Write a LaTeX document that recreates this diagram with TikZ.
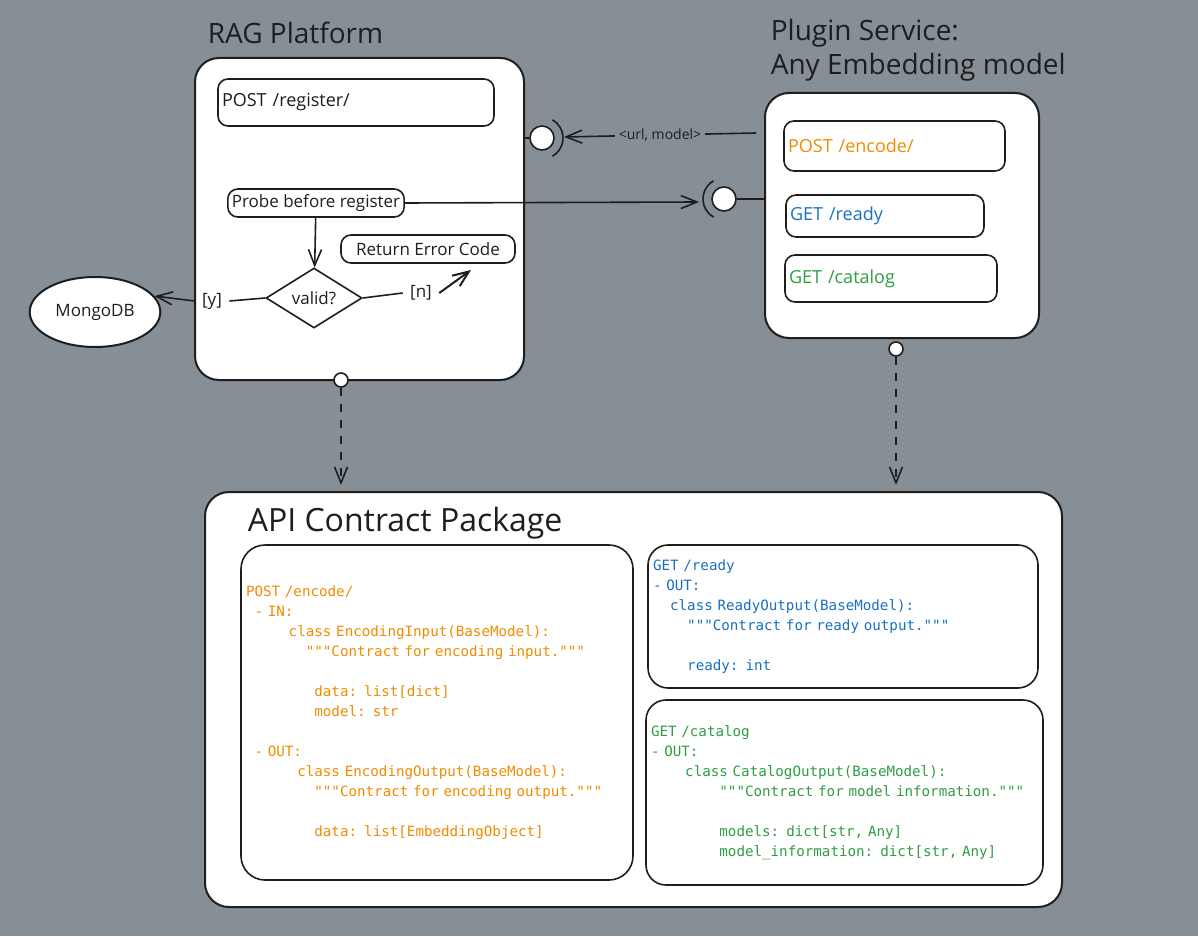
\documentclass[tikz,border=0pt]{standalone}
\usepackage{fontspec}
\setmainfont{Open Sans}
\newfontfamily\codefont{DejaVu Sans Mono}[Ligatures=TeXOff]
\usepackage{xcolor}
\usepackage{tikz}
\usetikzlibrary{shapes.geometric, arrows.meta, calc}
\definecolor{bggray}{HTML}{868E96}
\definecolor{ink}{HTML}{1E1E1E}
\definecolor{encorange}{HTML}{F08C00}
\definecolor{readyblue}{HTML}{1971C2}
\definecolor{catgreen}{HTML}{2F9E44}
\newcommand\cind[1]{\hspace*{#1\fontcharwd\font`x}}
\newcommand\codesize{\codefont\fontsize{7.1}{10}\selectfont
  \spaceskip=\fontcharwd\font`x\relax\xspaceskip=\spaceskip}
\tikzset{every node/.append style={font=\fontsize{8.5}{10}\selectfont, text=ink}}
\tikzset{
  bigbox/.style={draw=ink, fill=white, line width=1pt, rounded corners=12pt, inner sep=0pt},
  smallbox/.style={draw=ink, fill=white, line width=0.8pt, rounded corners=5pt, inner sep=2pt},
  codebox/.style={draw=ink, fill=white, line width=0.8pt, rounded corners=10pt, align=left,
    inner xsep=2.5pt, font=\codesize},
  port/.style={circle, draw=ink, fill=white, line width=0.8pt, inner sep=0pt},
  headtext/.style={anchor=west, inner sep=0pt, font=\fontsize{14}{17}\selectfont}
}

\begin{document}
\begin{tikzpicture}[x=0.5pt, y=-0.5pt, >={Straight Barb[length=8pt,width=6.5pt]}, line width=0.8pt, color=ink]
    \fill[bggray] (0,0) rectangle (1198,936);
    % RAG platform
    \node[bigbox, minimum width=164.5pt, minimum height=161pt] (rag) at (359.5,219) {};
    \node[headtext] (ragtitle) at (207,33) {RAG Platform};
    \node[smallbox, text width=134pt, minimum height=23.5pt, align=left, font=\fontsize{9}{10}\selectfont] (register) at (356,102.5) {POST /register/};
    \node[smallbox, minimum width=87pt, minimum height=14pt] (probe) at (316,203) {Probe before register};
    \node[smallbox, minimum width=87pt, minimum height=14pt] (error) at (428,249) {Return Error Code};
    \node[diamond, draw, fill=white, minimum width=48pt, minimum height=30pt, inner sep=0pt] (valid) at (314,298) {valid?};
    \node[ellipse, draw, fill=white, line width=1pt, minimum width=62pt, minimum height=35pt] (mongo) at (95,312) {MongoDB};
    \draw[->] (probe) -- (valid);
    \node (ylbl) at (212,301) {[y]};
    \draw (valid.west) -- (ylbl.east);
    \draw[->] (ylbl.west) -- (mongo.15);
    \node (nlbl) at (421,293) {[n]};
    \coordinate (errtip) at (471,270);
    \draw (valid.east) -- (nlbl.west);
    \draw[->, line width=1pt] (nlbl.east) -- (errtip);
    % provided port and <url, model>
    \node[port, minimum size=12pt] (rport) at (542,138) {};
    \draw (rport.west) -- (rport.west -| rag.east);
    \draw ([shift={(-60:10.5pt)}]rport.center) arc[start angle=-60, end angle=60, radius=10.5pt];
    % plugin service
    \node[bigbox, minimum width=137pt, minimum height=122.5pt] (plugin) at (902,215.5) {};
    \node[headtext, align=left] (plugtitle) at (770,50) {Plugin Service:\\Any Embedding model};
    \node[smallbox, text width=106.5pt, minimum height=25pt, align=left, text=encorange, font=\fontsize{9}{10}\selectfont] (encode) at (894.5,146) {POST /encode/};
    \node[smallbox, text width=95pt, minimum height=21pt, align=left, text=readyblue, font=\fontsize{9}{10}\selectfont] (ready) at (885,216) {GET /ready};
    \node[smallbox, text width=102pt, minimum height=23.5pt, align=left, text=catgreen, font=\fontsize{9}{10}\selectfont] (catalog) at (891,278.5) {GET /catalog};
    \node[port, minimum size=12pt] (pport) at (724,199) {};
    \draw (pport.east) -- (pport.east -| plugin.west);
    \draw ([shift={(120:10.5pt)}]pport.center) arc[start angle=120, end angle=240, radius=10.5pt];
    \coordinate (psock) at (699,202);
    \draw[->] (probe.east) -- (psock);
    \coordinate (urlsrc) at (756,133);
    \coordinate (rsock) at (564,137);
    \draw[->] (urlsrc) -- node[fill=bggray, inner sep=2pt, font=\fontsize{7}{8}\selectfont] (urllbl) {<url, model>} (rsock);
    % API contract package
    \node[bigbox, minimum width=428.5pt, minimum height=207.5pt] (api) at (633.5,699.5) {};
    \node[headtext, font=\fontsize{16}{19}\selectfont] (apititle) at (247,523) {API Contract Package};
    \node[codebox, rounded corners=12pt, text=encorange, text width=191pt, minimum height=167.5pt] (enccode) at (437,712.5) {%
        POST /encode/\\
        \cind{1}- IN:\\
        \cind{5}class EncodingInput(BaseModel):\\
        \cind{7}"""Contract for encoding input."""\\
        \mbox{}\\
        \cind{8}data: list[dict]\\
        \cind{8}model: str\\
        \mbox{}\\
        \cind{1}- OUT:\\
        \cind{6}class EncodingOutput(BaseModel):\\
        \cind{8}"""Contract for encoding output."""\\
        \mbox{}\\
        \cind{8}data: list[EmbeddingObject]};
    \node[codebox, text=readyblue, text width=190pt, minimum height=71.5pt] (readycode) at (843,616.5) {%
        GET /ready\\
        - OUT:\\
        \cind{2}class ReadyOutput(BaseModel):\\
        \cind{4}"""Contract for ready output."""\\
        \mbox{}\\
        \cind{4}ready: int};
    \node[codebox, text=catgreen, text width=193.5pt, minimum height=92.5pt] (catcode) at (844.5,792.5) {%
        GET /catalog\\
        - OUT:\\
        \cind{4}class CatalogOutput(BaseModel):\\
        \cind{8}"""Contract for model information."""\\
        \mbox{}\\
        \cind{8}models: dict[str, Any]\\
        \cind{8}model\_information: dict[str, Any]};
    % dependencies
    \node[port, minimum size=7pt] (ragdep) at (341,380) {};
    \node[port, minimum size=7pt] (plugdep) at (896,349) {};
    \draw[->, dash pattern=on 4pt off 4pt, shorten >=3pt] (ragdep) -- (ragdep |- api.north);
    \draw[->, dash pattern=on 4pt off 4pt, shorten >=3pt] (plugdep) -- (plugdep |- api.north);
\end{tikzpicture}
\end{document}
